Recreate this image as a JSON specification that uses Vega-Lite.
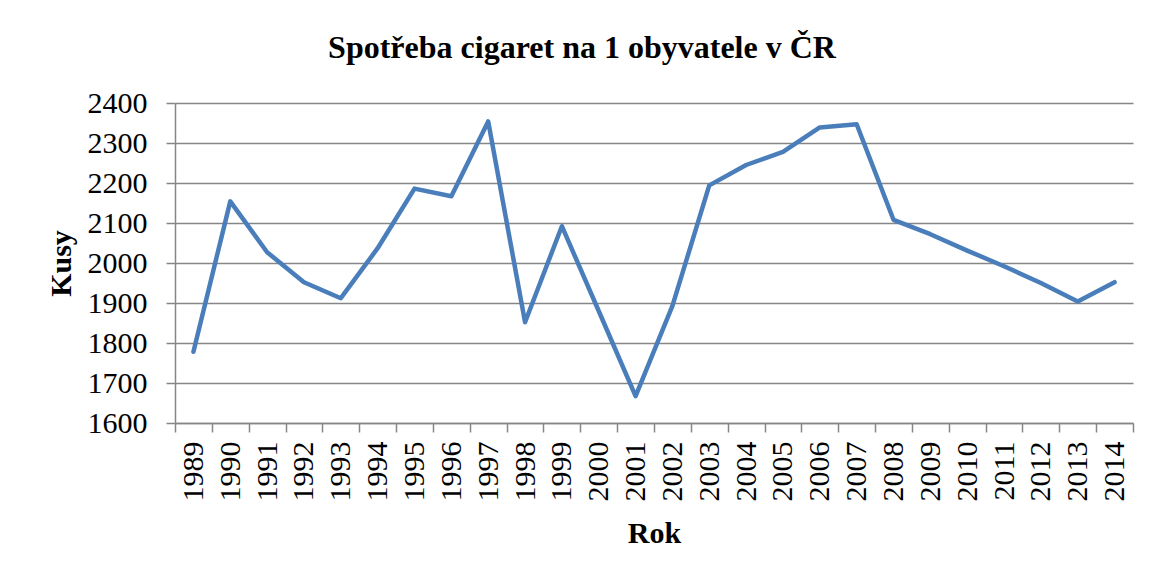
{
  "$schema": "https://vega.github.io/schema/vega-lite/v6.json",
  "autosize": "none",
  "width": 958,
  "height": 320,
  "padding": {"left": 175, "top": 103, "right": 18, "bottom": 155},
  "background": "white",
  "title": {
    "text": "Spotřeba cigaret na 1 obyvatele v ČR",
    "font": "Liberation Serif",
    "fontSize": 32,
    "fontWeight": "bold",
    "color": "black",
    "anchor": "middle",
    "dx": -72,
    "offset": 23
  },
  "data": {
    "values": [
      {"rok": "1989", "kusy": 1778},
      {"rok": "1990", "kusy": 2154},
      {"rok": "1991", "kusy": 2027},
      {"rok": "1992", "kusy": 1952},
      {"rok": "1993", "kusy": 1912},
      {"rok": "1994", "kusy": 2037},
      {"rok": "1995", "kusy": 2186},
      {"rok": "1996", "kusy": 2167},
      {"rok": "1997", "kusy": 2354},
      {"rok": "1998", "kusy": 1852},
      {"rok": "1999", "kusy": 2092},
      {"rok": "2000", "kusy": 1880},
      {"rok": "2001", "kusy": 1667},
      {"rok": "2002", "kusy": 1893},
      {"rok": "2003", "kusy": 2194},
      {"rok": "2004", "kusy": 2245},
      {"rok": "2005", "kusy": 2278},
      {"rok": "2006", "kusy": 2339},
      {"rok": "2007", "kusy": 2347},
      {"rok": "2008", "kusy": 2108},
      {"rok": "2009", "kusy": 2072},
      {"rok": "2010", "kusy": 2031},
      {"rok": "2011", "kusy": 1992},
      {"rok": "2012", "kusy": 1950},
      {"rok": "2013", "kusy": 1904},
      {"rok": "2014", "kusy": 1952}
    ]
  },
  "mark": {"type": "line", "color": "#4A7EBB", "strokeWidth": 4.5, "strokeJoin": "round", "strokeCap": "round"},
  "encoding": {
    "x": {
      "field": "rok",
      "type": "ordinal",
      "bandPosition": 0.5,
      "scale": {"type": "band", "paddingInner": 0, "paddingOuter": 0},
      "axis": {
        "title": "Rok",
        "labelAngle": -90,
        "labelAlign": "right",
        "labelBaseline": "middle",
        "labelPadding": 9,
        "tickBand": "extent",
        "tickSize": 9,
        "grid": false,
        "titlePadding": 17
      }
    },
    "y": {
      "field": "kusy",
      "type": "quantitative",
      "scale": {"domain": [1600, 2400], "nice": false, "zero": false},
      "axis": {
        "title": "Kusy",
        "format": "d",
        "values": [1600, 1700, 1800, 1900, 2000, 2100, 2200, 2300, 2400],
        "tickSize": 9,
        "labelPadding": 19,
        "titlePadding": 11,
        "grid": true
      }
    }
  },
  "config": {
    "view": {"stroke": null},
    "axis": {
      "labelFont": "Liberation Serif",
      "labelFontSize": 30,
      "labelColor": "black",
      "titleFont": "Liberation Serif",
      "titleFontSize": 30,
      "titleFontWeight": "bold",
      "titleColor": "black",
      "domainColor": "#868686",
      "domainWidth": 1.5,
      "tickColor": "#868686",
      "tickWidth": 1.5,
      "gridColor": "#868686",
      "gridWidth": 1.3,
      "labelOverlap": false
    }
  }
}
